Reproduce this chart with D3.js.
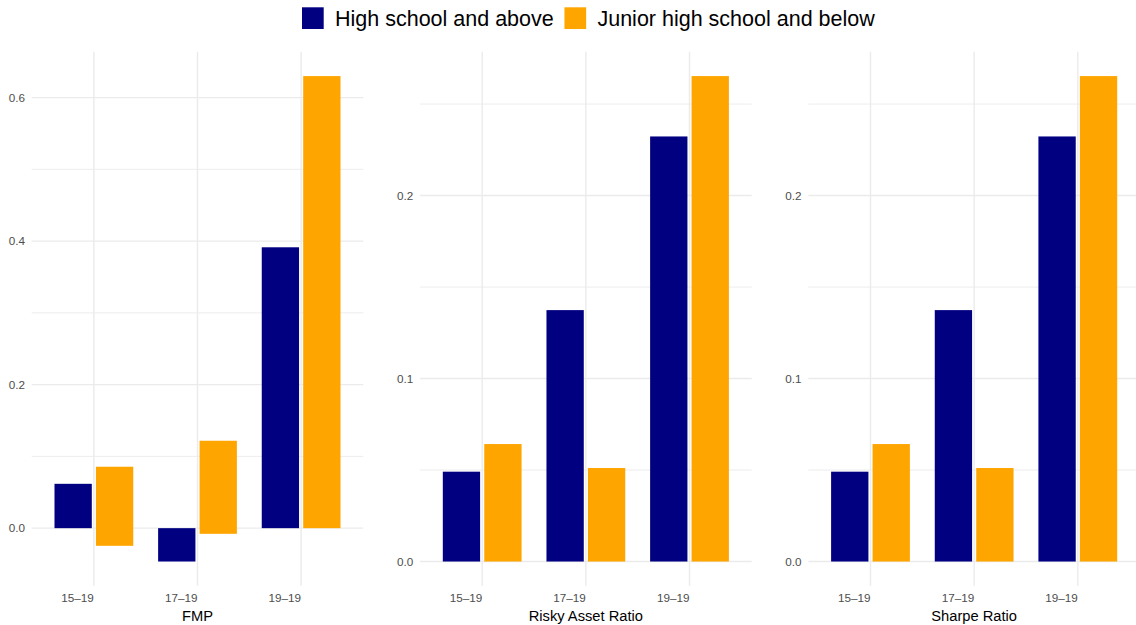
<!DOCTYPE html>
<html>
<head>
<meta charset="utf-8">
<script src="https://cdn.jsdelivr.net/npm/d3@7"></script>
<style>
  html, body { margin: 0; padding: 0; background: #ffffff; }
  svg { display: block; font-family: "Liberation Sans", Arial, Helvetica, sans-serif; }
</style>
</head>
<body>
<svg id="chart" width="1136" height="625"></svg>
<script>
// ---- data ----
const categories = ["15\u201319", "17\u201319", "19\u201319"];
const seriesNames = ["High school and above", "Junior high school and below"];
const seriesColors = ["#000080", "#FFA500"];
const panelTitles = ["FMP", "Risky Asset Ratio", "Sharpe Ratio"];

// FMP
const fmpHighTop = [0.0618, 0, 0.3914];
const fmpHighBase = [0, -0.0465, 0];
const fmpJuniorTop = [0.0856, 0.1218, 0.630];
const fmpJuniorBase = [-0.0246, -0.0079, 0];
// Risky Asset Ratio
const rarHigh = [0.0491, 0.1374, 0.2323];
const rarJunior = [0.0642, 0.0511, 0.2653];
// Sharpe Ratio
const sharpeHigh = [0.0491, 0.1374, 0.2323];
const sharpeJunior = [0.0642, 0.0511, 0.2653];

const fmpMajorTicks = [0, 0.2, 0.4, 0.6];
const fmpMinorTicks = [0.1, 0.3, 0.5];
const ratioMajorTicks = [0, 0.1, 0.2];
const ratioMinorTicks = [0.05, 0.15, 0.25];

const panels = [
  { title: panelTitles[0], x0: 31.7, x1: 363.3,
    series: [
      { base: fmpHighBase, top: fmpHighTop },
      { base: fmpJuniorBase, top: fmpJuniorTop }
    ],
    major: fmpMajorTicks, minor: fmpMinorTicks },
  { title: panelTitles[1], x0: 420, x1: 751.7,
    series: [
      { base: [0, 0, 0], top: rarHigh },
      { base: [0, 0, 0], top: rarJunior }
    ],
    major: ratioMajorTicks, minor: ratioMinorTicks },
  { title: panelTitles[2], x0: 808.3, x1: 1140,
    series: [
      { base: [0, 0, 0], top: sharpeHigh },
      { base: [0, 0, 0], top: sharpeJunior }
    ],
    major: ratioMajorTicks, minor: ratioMinorTicks }
];

const svg = d3.select("#chart");
const yTop = 51.8, yBottom = 585.8;
const gridColor = "#ebebeb";
const fmt = d3.format(".1f");

panels.forEach((p, pi) => {
  const g = svg.append("g");
  const all = [];
  p.series.forEach(s => { all.push(...s.base, ...s.top); });
  const lo = d3.min(all), hi = d3.max(all);
  const pad = (hi - lo) * 0.05;
  const y = d3.scaleLinear().domain([lo - pad, hi + pad]).range([yBottom, yTop]);
  const x = d3.scalePoint().domain(categories).range([p.x0, p.x1]).padding(0.6);
  const step = x.step();

  // minor horizontal grid
  g.selectAll("line.minor").data(p.minor).join("line")
    .attr("x1", p.x0).attr("x2", p.x1)
    .attr("y1", d => y(d)).attr("y2", d => y(d))
    .attr("stroke", gridColor).attr("stroke-width", 0.9);
  // major horizontal grid
  g.selectAll("line.major").data(p.major).join("line")
    .attr("x1", p.x0).attr("x2", p.x1)
    .attr("y1", d => y(d)).attr("y2", d => y(d))
    .attr("stroke", gridColor).attr("stroke-width", 1.4);
  // vertical grid
  g.selectAll("line.vx").data(categories).join("line")
    .attr("x1", d => x(d)).attr("x2", d => x(d))
    .attr("y1", yTop).attr("y2", yBottom)
    .attr("stroke", gridColor).attr("stroke-width", 1.4);

  // bars
  const dodge = 0.4 * step, bw = 0.36 * step;
  p.series.forEach((s, si) => {
    const off = (si - 0.5) * dodge;
    g.selectAll("rect.s" + si).data(categories).join("rect")
      .attr("x", (d) => x(d) + off - bw / 2)
      .attr("width", bw)
      .attr("y", (d, i) => y(Math.max(s.base[i], s.top[i])))
      .attr("height", (d, i) => Math.abs(y(s.base[i]) - y(s.top[i])))
      .attr("fill", seriesColors[si]);
  });

  // y tick labels
  g.selectAll("text.yl").data(p.major).join("text")
    .attr("x", p.x0 - 6.7).attr("y", d => y(d)).attr("dy", "0.35em")
    .attr("text-anchor", "end").attr("font-size", "11.7px").attr("fill", "#4d4d4d")
    .text(d => fmt(d));

  // x tick labels (right-aligned at the tick)
  g.selectAll("text.xl").data(categories).join("text")
    .attr("x", d => x(d)).attr("y", 601.8)
    .attr("text-anchor", "end").attr("font-size", "11.7px").attr("fill", "#4d4d4d")
    .text(d => d);

  // axis title
  g.append("text")
    .attr("x", (p.x0 + p.x1) / 2).attr("y", 620.5)
    .attr("text-anchor", "middle").attr("font-size", "14.7px").attr("fill", "#000")
    .text(p.title);
});

// legend
const leg = svg.append("g");
let lx = 302;
const keySize = 21.7, keyY = 7.3;
seriesNames.forEach((name, i) => {
  leg.append("rect").attr("x", lx).attr("y", keyY).attr("width", keySize).attr("height", keySize)
    .attr("fill", seriesColors[i]);
  lx += keySize + 11.3;
  const t = leg.append("text").attr("x", lx).attr("y", 25.6)
    .attr("font-size", "21.5px").attr("fill", "#000").text(name);
  lx += t.node().getComputedTextLength() + 10.7;
});
</script>
</body>
</html>
